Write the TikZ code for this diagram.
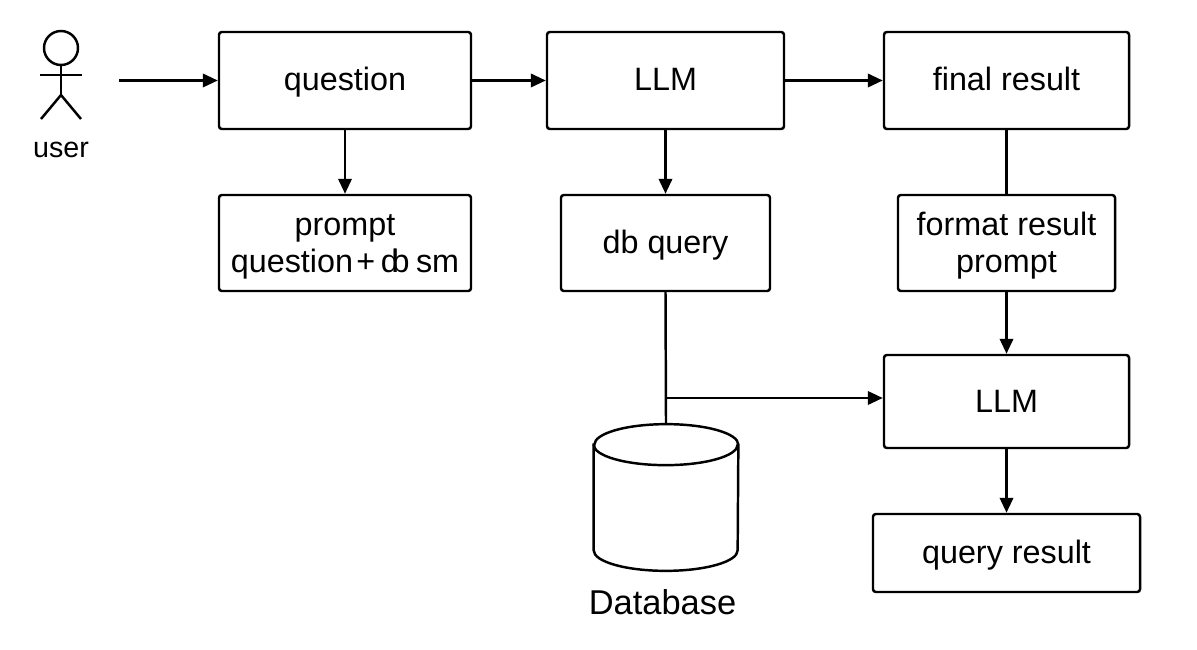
\documentclass[tikz,border=0pt]{standalone}
\usepackage{fontspec}
\setmainfont{Liberation Sans}
\usetikzlibrary{arrows.meta}
\pgfdeclarelayer{edgelayer}
\pgfdeclarelayer{nodelayer}
\pgfsetlayers{edgelayer,nodelayer,main}
\tikzstyle{line}=[line width=1.4pt]
\tikzstyle{arrow}=[line,-{Triangle[length=8.5pt,width=7.6pt]}]
\tikzstyle{box}=[rectangle,line,draw=black,fill=white,rounded corners=1.6pt,align=center,inner sep=0pt,text height=0.62cm,text depth=0.20cm,font=\fontsize{18.4}{21.5}\selectfont]
\tikzstyle{twolines}=[text height=1.40cm,text depth=0.20cm]
\tikzstyle{label}=[inner sep=0pt,font=\fontsize{16.3}{19}\selectfont]
\begin{document}
\begin{tikzpicture}
        \useasboundingbox (0, 0) rectangle (23.94, -13);
        \begin{pgfonlayer}{nodelayer}
            \node [style = box, minimum width=5.04cm, minimum height=1.94cm] (question) at (6.90, -1.61) {question};
            \node [style = box, minimum width=4.74cm, minimum height=1.94cm] (llm1) at (13.31, -1.61) {LLM};
            \node [style = box, minimum width=4.90cm, minimum height=1.94cm] (final) at (20.13, -1.61) {final result};

            \node [style = box, style = twolines, minimum width=5.04cm, minimum height=1.92cm] (prompt) at (6.90, -4.86) {prompt\\question\kern-1.6pt{} \kern-1.6pt+\kern-2pt{} d\kern-4pt{}b\kern-1.5pt{} sm};
            \node [style = box, minimum width=4.18cm, minimum height=1.92cm] (dbquery) at (13.31, -4.86) {db query};
            \node [style = box, style = twolines, minimum width=4.34cm, minimum height=1.92cm] (format) at (20.13, -4.86) {format result\\prompt};

            \node [style = box, minimum width=4.90cm, minimum height=1.86cm] (llm2) at (20.13, -8.03) {LLM};
            \node [style = box, minimum width=5.34cm, minimum height=1.56cm] (qresult) at (20.13, -11.06) {query result};

            % cylinder
            \node [inner sep=0pt, minimum width=2.88cm, minimum height=2.92cm] (db) at (13.32, -9.95) {};
            \draw [line, fill=white] ([yshift=-0.41cm]db.north west) -- ([yshift=0.41cm]db.south west) arc (180:360:1.44 and 0.41) -- ([yshift=-0.41cm]db.north east) arc (0:180:1.44 and 0.41) -- cycle;
            \draw [line] ([yshift=-0.41cm]db.north west) arc (180:360:1.44 and 0.41);
            \node [style = label, font=\fontsize{19.6}{23}\selectfont] (dblabel) at (13.25, -12.05) {Database};

            \node [draw=black, line, circle, inner sep=0pt, minimum size=0.68cm] (head) at (1.22, -0.96) {};
            \coordinate (hip) at (1.22, -1.90);
            \coordinate (larm) at (0.80, -1.50);
            \coordinate (rarm) at (1.64, -1.50);
            \coordinate (lfoot) at (0.82, -2.38);
            \coordinate (rfoot) at (1.62, -2.38);
            \coordinate (start) at (2.38, -1.61);
            \coordinate (branch) at (13.31, -7.96);
            \node [style = label] (user) at (1.22, -2.99) {user};
        \end{pgfonlayer}

        \begin{pgfonlayer}{edgelayer}
            % actor
            \draw [line] (head) to (hip);
            \draw [line] (larm) to (rarm);
            \draw [line] (lfoot) to (hip);
            \draw [line] (hip) to (rfoot);

            \draw [arrow] (start) to (question);
            \draw [arrow] (question) to (llm1);
            \draw [arrow] (llm1) to (final);

            \draw [arrow] (question) to (prompt);
            \draw [arrow] (llm1) to (dbquery);

            \draw [line] (final) to (format);
            \draw [arrow] (format) to (llm2);
            \draw [arrow] (llm2) to (qresult);

            \draw [line] (dbquery.south) to (db.north);
            \draw [arrow] (branch) to (branch -| llm2.west);
        \end{pgfonlayer}
    \end{tikzpicture}
\end{document}
